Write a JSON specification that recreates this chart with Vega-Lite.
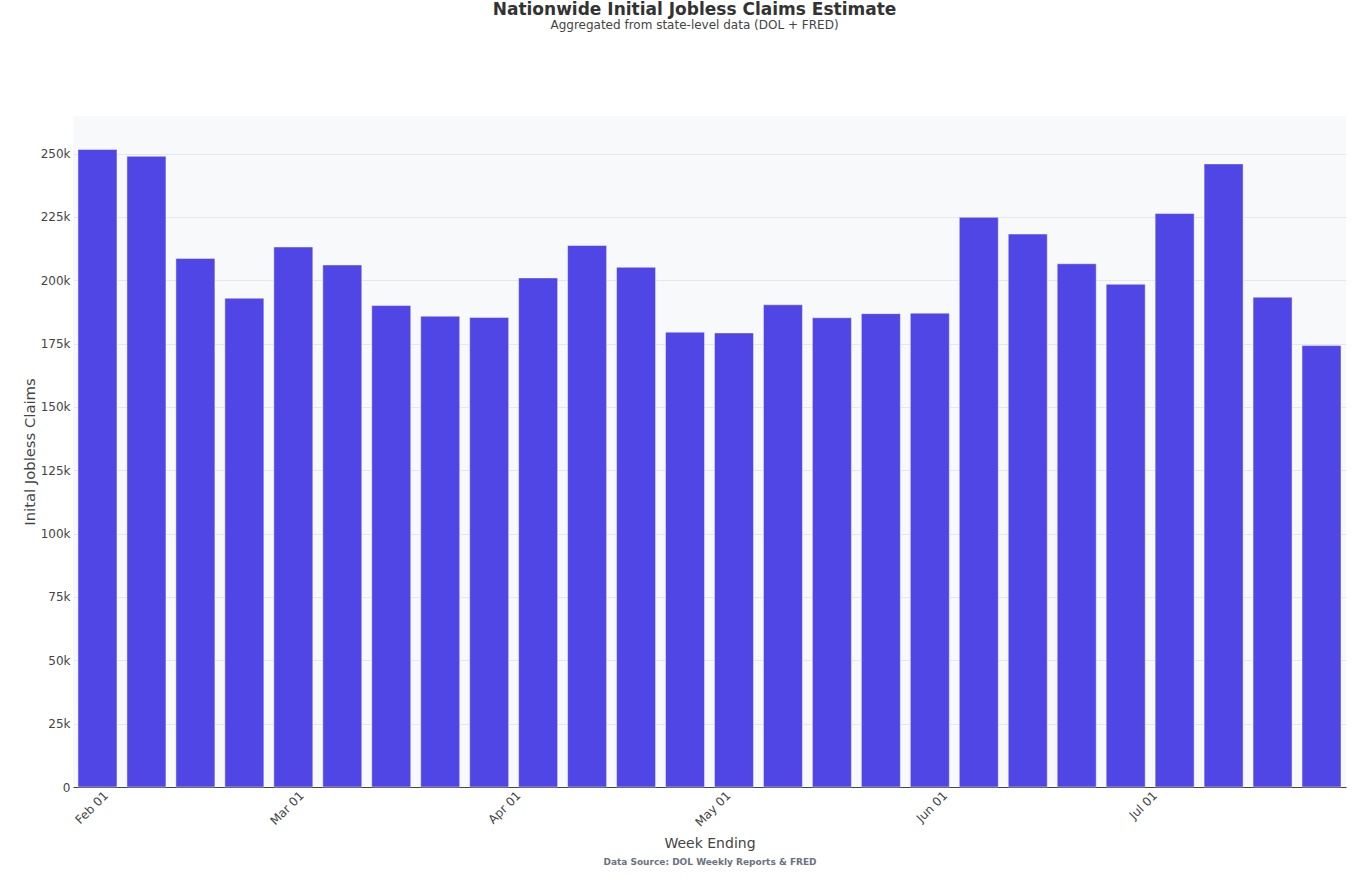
{
  "$schema": "https://vega.github.io/schema/vega-lite/v6.json",
  "width": 1273,
  "height": 671,
  "autosize": {"type": "none"},
  "padding": {"left": 73, "top": 116, "right": 10, "bottom": 93},
  "background": "white",
  "config": {"view": {"fill": "#f8f9fa", "stroke": null}, "font": "DejaVu Sans"},
  "title": {
    "text": "Nationwide Initial Jobless Claims Estimate",
    "subtitle": "Aggregated from state-level data (DOL + FRED)",
    "anchor": "middle",
    "frame": "group",
    "font": "DejaVu Sans",
    "fontSize": 17,
    "fontWeight": "bold",
    "color": "#333333",
    "subtitleFont": "DejaVu Sans",
    "subtitleFontSize": 12,
    "subtitleColor": "#444444",
    "subtitlePadding": 1,
    "offset": 84,
    "dx": -15
  },
  "data": {
    "values": [
      {"week": "2025-02-01", "claims": 251600},
      {"week": "2025-02-08", "claims": 248900},
      {"week": "2025-02-15", "claims": 208600},
      {"week": "2025-02-22", "claims": 192900},
      {"week": "2025-03-01", "claims": 213100},
      {"week": "2025-03-08", "claims": 206000},
      {"week": "2025-03-15", "claims": 190000},
      {"week": "2025-03-22", "claims": 185800},
      {"week": "2025-03-29", "claims": 185300},
      {"week": "2025-04-05", "claims": 200900},
      {"week": "2025-04-12", "claims": 213700},
      {"week": "2025-04-19", "claims": 205100},
      {"week": "2025-04-26", "claims": 179500},
      {"week": "2025-05-03", "claims": 179200},
      {"week": "2025-05-10", "claims": 190300},
      {"week": "2025-05-17", "claims": 185200},
      {"week": "2025-05-24", "claims": 186800},
      {"week": "2025-05-31", "claims": 187000},
      {"week": "2025-06-07", "claims": 224800},
      {"week": "2025-06-14", "claims": 218200},
      {"week": "2025-06-21", "claims": 206500},
      {"week": "2025-06-28", "claims": 198400},
      {"week": "2025-07-05", "claims": 226300},
      {"week": "2025-07-12", "claims": 245900},
      {"week": "2025-07-19", "claims": 193300},
      {"week": "2025-07-26", "claims": 174200}
    ]
  },
  "layer": [
    {
      "mark": {"type": "bar", "color": "#4F46E5", "size": 39, "stroke": "white", "strokeWidth": 1, "strokeOpacity": 0.45},
      "encoding": {
        "x": {
          "field": "week",
          "type": "temporal",
          "scale": {
            "type": "utc",
            "padding": 0,
            "domain": [
              {"year": 2025, "month": 1, "date": 28, "hours": 12, "utc": true},
              {"year": 2025, "month": 7, "date": 29, "hours": 12, "utc": true}
            ]
          },
          "axis": {
            "values": [
              {"year": 2025, "month": 2, "date": 1, "utc": true},
              {"year": 2025, "month": 3, "date": 1, "utc": true},
              {"year": 2025, "month": 4, "date": 1, "utc": true},
              {"year": 2025, "month": 5, "date": 1, "utc": true},
              {"year": 2025, "month": 6, "date": 1, "utc": true},
              {"year": 2025, "month": 7, "date": 1, "utc": true}
            ],
            "labelExpr": "utcFormat(datum.value, '%b %d')",
            "grid": false,
            "ticks": false,
            "tickSize": 0,
            "domain": true,
            "domainColor": "#444444",
            "domainWidth": 1,
            "labelAngle": -45,
            "labelAlign": "right",
            "labelBaseline": "middle",
            "labelFontSize": 12,
            "labelColor": "#444444",
            "labelPadding": 6,
            "labelOffset": 8,
            "title": "Week Ending",
            "titleFontSize": 14,
            "titleFontWeight": "normal",
            "titleColor": "#444444",
            "titlePadding": 8
          }
        },
        "y": {
          "field": "claims",
          "type": "quantitative",
          "scale": {"domain": [0, 264800], "nice": false},
          "axis": {
            "values": [0, 25000, 50000, 75000, 100000, 125000, 150000, 175000, 200000, 225000, 250000],
            "labelExpr": "datum.value === 0 ? '0' : format(datum.value / 1000, 'd') + 'k'",
            "domain": false,
            "ticks": false,
            "tickSize": 0,
            "gridColor": "#e5e7eb",
            "gridWidth": 1,
            "labelFontSize": 12,
            "labelColor": "#444444",
            "labelPadding": 3,
            "title": "Inital Jobless Claims",
            "titleFontSize": 14.8,
            "titleFontWeight": "normal",
            "titleColor": "#444444",
            "titlePadding": 3
          }
        }
      }
    },
    {
      "mark": {"type": "point", "opacity": 0},
      "encoding": {
        "x": {
          "field": "week",
          "type": "temporal",
          "axis": {
            "orient": "bottom",
            "labels": false,
            "ticks": false,
            "tickSize": 0,
            "domain": false,
            "grid": false,
            "title": "Data Source: DOL Weekly Reports & FRED",
            "titleFontSize": 9,
            "titleFontWeight": "bold",
            "titleColor": "#6b7280",
            "titlePadding": 70
          }
        }
      }
    }
  ],
  "resolve": {"axis": {"x": "independent"}}
}
